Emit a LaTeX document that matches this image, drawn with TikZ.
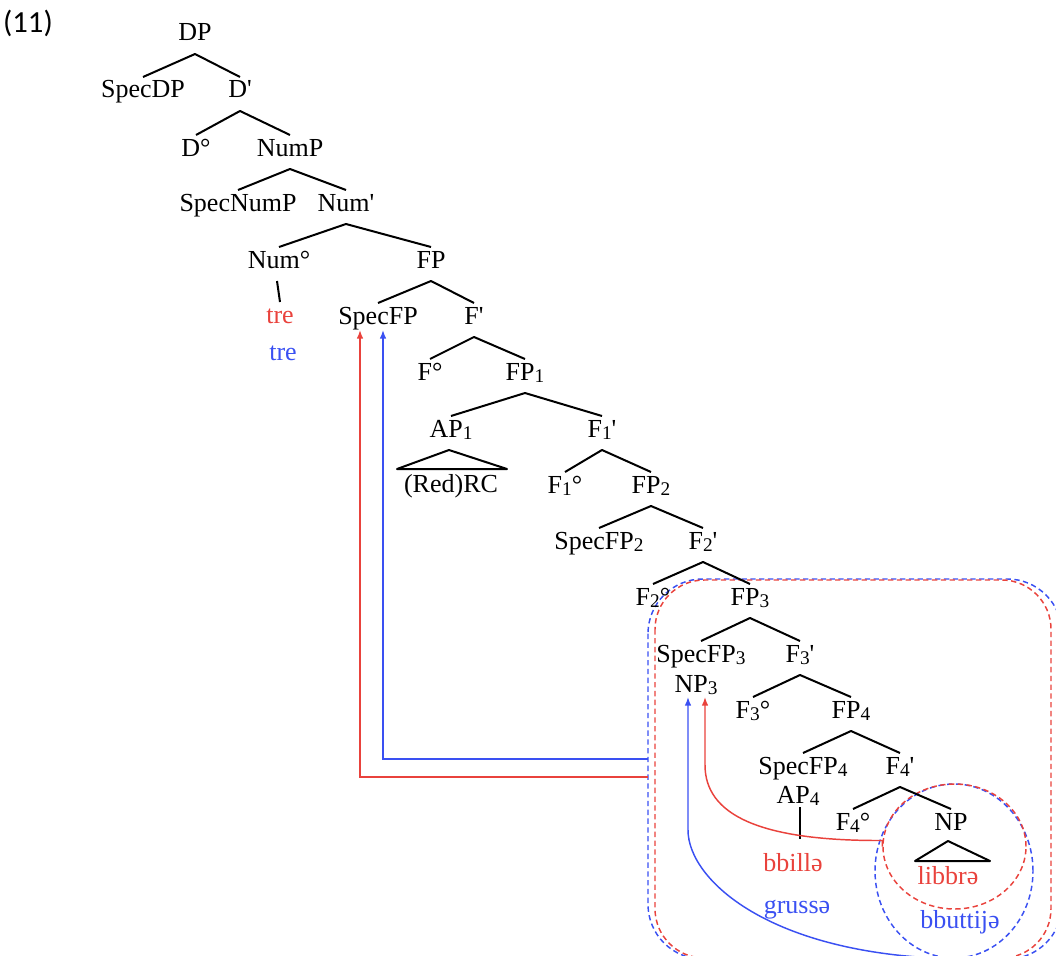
\documentclass[tikz,border=0pt]{standalone}
\usepackage{fontspec}
\newfontfamily\trfont{Liberation Serif}
\newfontfamily\calfont{Carlito}
\usetikzlibrary{calc,arrows.meta,shapes.geometric}
\definecolor{rd}{RGB}{233,66,60}
\definecolor{bl}{RGB}{58,80,242}
% index numbers: smaller and slightly lowered
\newcommand\sbs[1]{\raisebox{-2.2pt}{\fontsize{14.5}{14.5}\selectfont #1}}
% two daughters hanging from one mother node
\newcommand\branch[3]{\draw[edge] ($(#2.base)+(0,-21)$) -- ($(#1.base)+(0,13)$) -- ($(#3.base)+(0,-21)$);}
\begin{document}
\begin{tikzpicture}[x=0.75pt,y=-0.75pt,
  lbl/.style={font=\trfont\fontsize{19.5}{22}\selectfont, inner sep=0pt, anchor=base},
  edge/.style={line width=1.5pt, line join=round},
  thinedge/.style={line width=1pt},
  redline/.style={rd, line width=1.1pt},
  blueline/.style={bl, line width=1.1pt},
  reddash/.style={rd, line width=1.1pt, dash pattern=on 4pt off 2.6pt},
  bluedash/.style={bl, line width=1.1pt, dash pattern=on 4pt off 2.6pt},
  tip/.style={-{Latex[length=6.5pt,width=5pt]}}]
\useasboundingbox (0,0) rectangle (1056,956);

% enclosing dashed boxes and circles
\draw[bluedash, rounded corners=41pt] (648,579) rectangle (1062,959);
\draw[reddash, rounded corners=37pt] (655,580) rectangle (1051,958);
\node[bluedash, draw, ellipse, minimum width=118.5pt, minimum height=130.5pt, inner sep=0pt] (be) at (954,871) {};
\node[reddash, draw, ellipse, minimum width=107.25pt, minimum height=93.75pt, inner sep=0pt] (re) at (954.5,846.5) {};

% example number
\node[font=\calfont\fontsize{23}{26}\selectfont, inner sep=0pt, anchor=base] (ex) at (28,33) {(11)};

% tree labels
\node[lbl] (dp) at (195,41) {DP};
\node[lbl] (specdp) at (143,98) {SpecDP};
\node[lbl] (dbar) at (240,98) {D'};
\node[lbl] (d0) at (196,156) {D°};
\node[lbl] (nump) at (290,156) {NumP};
\node[lbl] (specnump) at (238,211) {SpecNumP};
\node[lbl] (numbar) at (346,211) {Num'};
\node[lbl] (num0) at (279,268) {Num°};
\node[lbl] (fp) at (431,268) {FP};
\node[lbl, text=rd] (tre1) at (280,323) {tre};
\node[lbl] (specfp) at (378,324) {SpecFP};
\node[lbl] (fbar) at (474,324) {F'};
\node[lbl, text=bl] (tre2) at (283,360) {tre};
\node[lbl] (f0) at (430,380) {F°};
\node[lbl] (fp1) at (525,380) {FP\sbs{1}};
\node[lbl] (ap1) at (451,437) {AP\sbs{1}};
\node[lbl] (f1bar) at (602,437) {F\sbs{1}'};
\node[lbl] (redrc) at (451,492) {(Red)RC};
\node[lbl] (f1o) at (565,493) {F\sbs{1}°};
\node[lbl] (fp2) at (651,493) {FP\sbs{2}};
\node[lbl] (specfp2) at (599,549) {SpecFP\sbs{2}};
\node[lbl] (f2bar) at (703,549) {F\sbs{2}'};
\node[lbl] (f2o) at (653,605) {F\sbs{2}°};
\node[lbl] (fp3) at (750,605) {FP\sbs{3}};
\node[lbl] (specfp3) at (701,662) {SpecFP\sbs{3}};
\node[lbl] (f3bar) at (800,662) {F\sbs{3}'};
\node[lbl] (np3) at (696,692) {NP\sbs{3}};
\node[lbl] (f3o) at (753,718) {F\sbs{3}°};
\node[lbl] (fp4) at (851,718) {FP\sbs{4}};
\node[lbl] (specfp4) at (803,774) {SpecFP\sbs{4}};
\node[lbl] (f4bar) at (900,774) {F\sbs{4}'};
\node[lbl] (ap4) at (798,803) {AP\sbs{4}};
\node[lbl] (f4o) at (853,830) {F\sbs{4}°};
\node[lbl] (np) at (951,830) {NP};
\node[lbl, text=rd] (bbille) at (793,871) {bbillə};
\node[lbl, text=rd] (libbre) at (948,884) {libbrə};
\node[lbl, text=bl] (grusse) at (797,913) {grussə};
\node[lbl, text=bl] (bbuttije) at (960,928) {bbuttijə};

% branches
\branch{dp}{specdp}{dbar}
\branch{dbar}{d0}{nump}
\branch{nump}{specnump}{numbar}
\branch{numbar}{num0}{fp}
\branch{fp}{specfp}{fbar}
\branch{fbar}{f0}{fp1}
\branch{fp1}{ap1}{f1bar}
\branch{f1bar}{f1o}{fp2}
\branch{fp2}{specfp2}{f2bar}
\branch{f2bar}{f2o}{fp3}
\branch{fp3}{specfp3}{f3bar}
\branch{f3bar}{f3o}{fp4}
\branch{fp4}{specfp4}{f4bar}
\branch{f4bar}{f4o}{np}
\draw[edge] ($(num0.base)+(-2,13)$) -- ($(tre1.base)+(0,-21)$);
\draw[thinedge] ($(ap4.base)+(2,4)$) -- ($(bbille.base)+(7,-32)$);

% triangles
\draw[edge] ($(redrc.base)+(-54,-23)$) -- ($(ap1.base)+(-2,13)$) -- ($(redrc.base)+(56,-23)$) -- cycle;
\draw[edge] ($(libbre.base)+(-33,-23)$) -- ($(np.base)+(-3,11)$) -- ($(libbre.base)+(42,-23)$) -- cycle;

% movement arrows
\coordinate (bA) at (648,759);
\coordinate (rA) at (648,777);
\draw[redline, tip] (rA) -| ($(specfp.base)+(-18,6)$);
\draw[blueline, tip] (bA) -| ($(specfp.base)+(5,6)$);
\draw[redline, tip] (re.west) -- ++(0,-6) .. controls (760,841) and (705,815) .. (705,765) -- ($(np3.base)+(9,5)$);
\draw[blueline, tip] (be.south) .. controls (770,955) and (688,880) .. (688,830) -- ($(np3.base)+(-8,5)$);
\end{tikzpicture}
\end{document}
